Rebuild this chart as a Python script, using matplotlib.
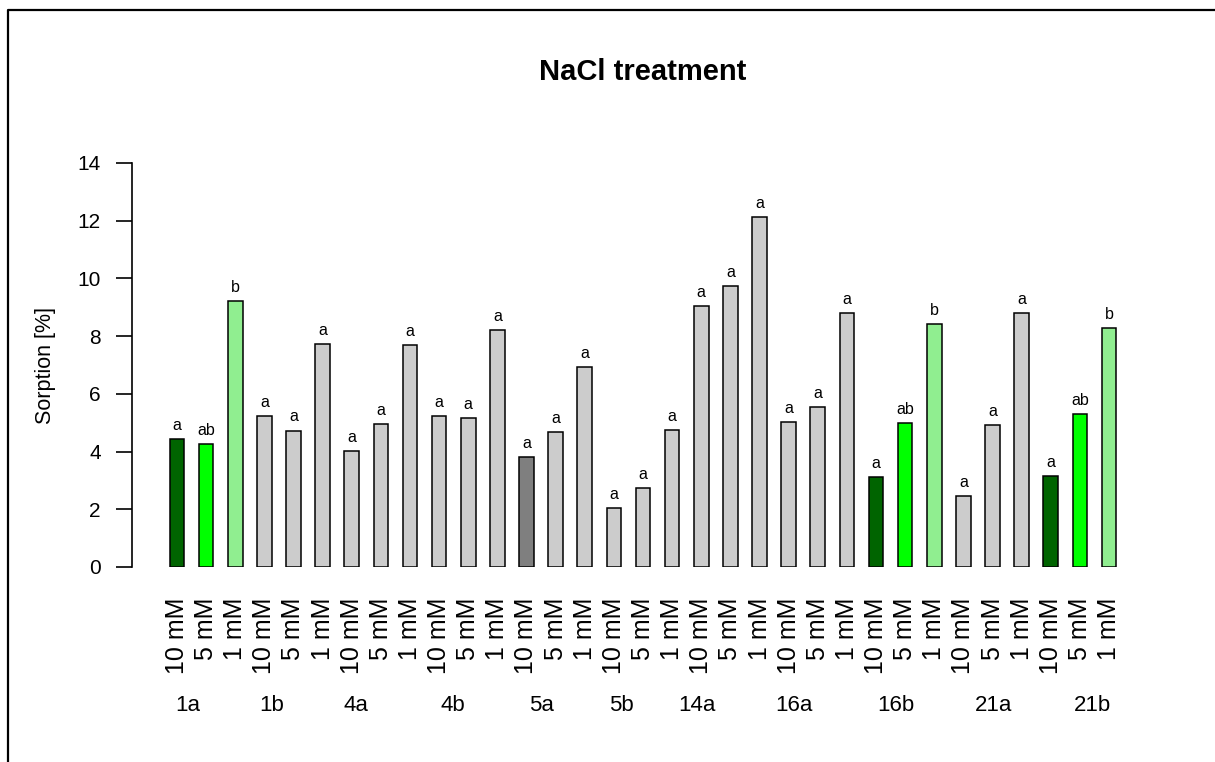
import numpy as np
import matplotlib
matplotlib.use("Agg")
import matplotlib.pyplot as plt
from matplotlib.lines import Line2D
import matplotlib.transforms as mtransforms

plt.rcParams["font.family"] = ["Liberation Sans", "DejaVu Sans"]

# Data
GROUPS = ["1a", "1b", "4a", "4b", "5a", "5b", "14a", "16a", "16b", "21a", "21b"]
CONCENTRATIONS = ["10 mM", "5 mM", "1 mM"]
SORPTION = [
    4.44, 4.26, 9.23,
    5.24, 4.73, 7.72,
    4.03, 4.95, 7.69,
    5.23, 5.17, 8.22,
    3.82, 4.69, 6.94,
    2.04, 2.75, 4.75,
    9.04, 9.75, 12.12,
    5.01, 5.55, 8.81,
    3.12, 4.99, 8.42,
    2.46, 4.92, 8.79,
    3.14, 5.31, 8.27,
]
LETTERS = [
    "a", "ab", "b",
    "a", "a", "a",
    "a", "a", "a",
    "a", "a", "a",
    "a", "a", "a",
    "a", "a", "a",
    "a", "a", "a",
    "a", "a", "a",
    "a", "ab", "b",
    "a", "a", "a",
    "a", "ab", "b",
]
HIGHLIGHT_GROUPS = ["1a", "16b", "21b"]
REFERENCE_BAR = ("5a", "10 mM")

# Styles
GREENS = ["#006400", "#00FF00", "#90EE90"]
GREY = "#CCCCCC"
DARK_GREY = "#7F7F7F"
# where the group names sit (in bar units), they are not centred on the groups
GROUP_LABEL_POS = [0.38, 3.26, 6.15, 9.48, 12.53, 15.25, 17.86, 21.19, 24.69, 28.04, 31.42]

W, H = 1215, 762


def bar_colors():
    colors = []
    for g in GROUPS:
        for k, c in enumerate(CONCENTRATIONS):
            if g in HIGHLIGHT_GROUPS:
                colors.append(GREENS[k])
            elif (g, c) == REFERENCE_BAR:
                colors.append(DARK_GREY)
            else:
                colors.append(GREY)
    return colors


def main():
    fig = plt.figure(figsize=(W / 100, H / 100), dpi=100)
    ax = fig.add_axes([132 / W, (H - 567) / H, (1154 - 132) / W, 404 / H])

    x = np.arange(len(SORPTION))
    ax.bar(x, SORPTION, width=0.5, color=bar_colors(), edgecolor="black", linewidth=1.1)

    for xi, v, lab in zip(x, SORPTION, LETTERS):
        ax.annotate(lab, (xi, v), xytext=(0, 6.5), textcoords="offset points",
                    ha="center", va="baseline", fontsize=11.5)

    ax.set_xlim(-1.545, len(SORPTION) - 1 + 1.545)
    ax.set_ylim(0, 14)
    ax.set_yticks(np.arange(0, 15, 2))
    ax.tick_params(axis="y", length=11.5, width=1.2, pad=11, labelsize=15)

    labels = [c for g in GROUPS for c in CONCENTRATIONS]
    ax.set_xticks(x)
    ax.set_xticklabels(labels, rotation=90, fontsize=18)
    ax.tick_params(axis="x", length=0, pad=22)

    for s in ["top", "right", "bottom"]:
        ax.spines[s].set_visible(False)
    ax.spines["left"].set_linewidth(1.2)
    ax.spines["left"].set_bounds(0, 14)

    ax.set_ylabel("Sorption [%]", fontsize=15.5)
    ax.yaxis.set_label_coords(-0.0744, 0.5)

    trans = mtransforms.blended_transform_factory(ax.transData, ax.transAxes)
    for pos, g in zip(GROUP_LABEL_POS, GROUPS):
        ax.text(pos, -0.344, g, transform=trans, ha="center", va="center", fontsize=16)

    ax.set_title("NaCl treatment", fontsize=21, fontweight="bold", pad=0,
                 y=(567 - 72) / 404, va="center")

    # frame around the figure (only top and left visible in the crop)
    fig.add_artist(Line2D([8 / W, 8 / W, 1], [0, 1 - 10 / H, 1 - 10 / H],
                          transform=fig.transFigure, color="black", linewidth=1.6))

    fig.savefig("out.png", dpi=100)


if __name__ == "__main__":
    main()
